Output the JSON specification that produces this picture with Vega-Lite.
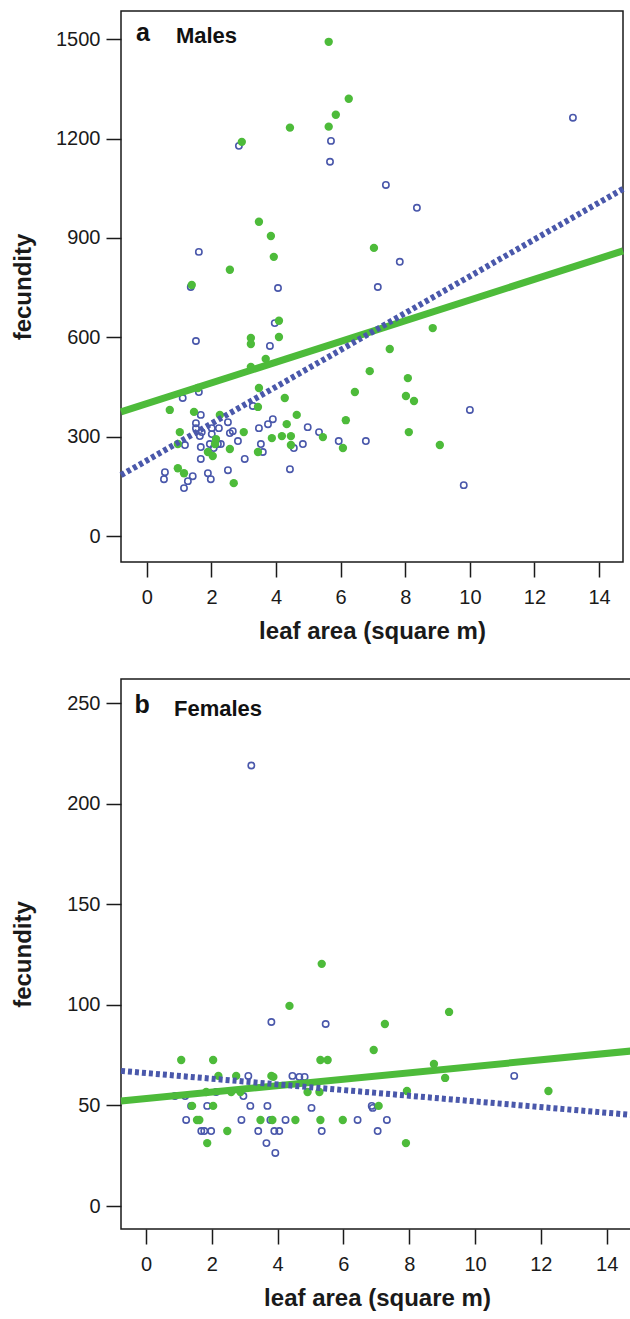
{
  "$schema": "https://vega.github.io/schema/vega-lite/v6.json",
  "padding": {"left": 10, "top": 10, "right": 0, "bottom": 0},
  "spacing": 34,
  "config": {
    "font": "Liberation Sans",
    "view": {"stroke": "#1a1a1a", "strokeWidth": 1.5},
    "axis": {"grid": false, "domain": false, "tickColor": "#1a1a1a", "tickWidth": 1.5, "tickSize": 15,
      "labelColor": "#1a1a1a", "labelFontSize": 20, "labelFont": "Liberation Sans",
      "titleFont": "Liberation Sans", "titleFontSize": 24, "titleFontWeight": "bold", "titleColor": "#1a1a1a"},
    "axisX": {"labelPadding": 10, "titlePadding": 12},
    "axisY": {"labelPadding": 6, "titlePadding": 20}
  },
  "datasets": {
    "m": [
      {"x":2.85,"y":1178,"g":"open"},{"x":5.70,"y":1193,"g":"open"},{"x":5.67,"y":1130,"g":"open"},{"x":1.61,"y":858,"g":"open"},{"x":1.36,"y":752,"g":"open"},{"x":4.06,"y":749,"g":"open"},{"x":7.15,"y":752,"g":"open"},{"x":13.19,"y":1263,"g":"open"},{"x":7.40,"y":1060,"g":"open"},{"x":8.36,"y":991,"g":"open"},{"x":7.83,"y":828,"g":"open"},{"x":3.96,"y":643,"g":"open"},{"x":1.52,"y":589,"g":"open"},{"x":3.81,"y":574,"g":"open"},{"x":1.61,"y":435,"g":"open"},{"x":1.11,"y":417,"g":"open"},{"x":3.28,"y":393,"g":"open"},{"x":1.67,"y":366,"g":"open"},{"x":3.90,"y":353,"g":"open"},{"x":3.75,"y":338,"g":"open"},{"x":2.51,"y":344,"g":"open"},{"x":1.52,"y":341,"g":"open"},{"x":1.52,"y":326,"g":"open"},{"x":2.01,"y":326,"g":"open"},{"x":2.23,"y":326,"g":"open"},{"x":3.47,"y":326,"g":"open"},{"x":4.98,"y":329,"g":"open"},{"x":5.33,"y":314,"g":"open"},{"x":1.70,"y":314,"g":"open"},{"x":1.64,"y":302,"g":"open"},{"x":2.01,"y":308,"g":"open"},{"x":2.57,"y":311,"g":"open"},{"x":2.66,"y":317,"g":"open"},{"x":2.82,"y":287,"g":"open"},{"x":1.18,"y":275,"g":"open"},{"x":1.67,"y":269,"g":"open"},{"x":1.95,"y":278,"g":"open"},{"x":2.20,"y":278,"g":"open"},{"x":2.29,"y":278,"g":"open"},{"x":3.59,"y":254,"g":"open"},{"x":4.55,"y":266,"g":"open"},{"x":4.83,"y":278,"g":"open"},{"x":5.94,"y":287,"g":"open"},{"x":6.78,"y":287,"g":"open"},{"x":1.67,"y":233,"g":"open"},{"x":3.03,"y":233,"g":"open"},{"x":2.51,"y":199,"g":"open"},{"x":4.43,"y":202,"g":"open"},{"x":0.56,"y":193,"g":"open"},{"x":0.53,"y":172,"g":"open"},{"x":1.42,"y":181,"g":"open"},{"x":1.27,"y":166,"g":"open"},{"x":1.15,"y":145,"g":"open"},{"x":1.89,"y":190,"g":"open"},{"x":1.98,"y":172,"g":"open"},{"x":10.0,"y":381,"g":"open"},{"x":9.81,"y":154,"g":"open"},{"x":3.53,"y":278,"g":"open"},{"x":2.07,"y":266,"g":"open"},
      {"x":5.63,"y":1492,"g":"filled"},{"x":6.25,"y":1320,"g":"filled"},{"x":5.85,"y":1272,"g":"filled"},{"x":4.43,"y":1233,"g":"filled"},{"x":5.63,"y":1236,"g":"filled"},{"x":2.94,"y":1190,"g":"filled"},{"x":3.47,"y":949,"g":"filled"},{"x":3.84,"y":906,"g":"filled"},{"x":3.93,"y":843,"g":"filled"},{"x":2.57,"y":804,"g":"filled"},{"x":1.39,"y":758,"g":"filled"},{"x":7.03,"y":870,"g":"filled"},{"x":4.09,"y":650,"g":"filled"},{"x":3.22,"y":598,"g":"filled"},{"x":3.22,"y":580,"g":"filled"},{"x":4.09,"y":601,"g":"filled"},{"x":3.68,"y":535,"g":"filled"},{"x":3.22,"y":511,"g":"filled"},{"x":1.58,"y":447,"g":"filled"},{"x":3.47,"y":447,"g":"filled"},{"x":4.27,"y":417,"g":"filled"},{"x":6.90,"y":498,"g":"filled"},{"x":6.44,"y":435,"g":"filled"},{"x":3.44,"y":390,"g":"filled"},{"x":0.71,"y":381,"g":"filled"},{"x":1.46,"y":375,"g":"filled"},{"x":2.26,"y":366,"g":"filled"},{"x":4.64,"y":366,"g":"filled"},{"x":4.33,"y":338,"g":"filled"},{"x":5.45,"y":299,"g":"filled"},{"x":6.16,"y":350,"g":"filled"},{"x":1.02,"y":314,"g":"filled"},{"x":3.00,"y":314,"g":"filled"},{"x":3.87,"y":296,"g":"filled"},{"x":4.18,"y":302,"g":"filled"},{"x":4.46,"y":302,"g":"filled"},{"x":4.46,"y":275,"g":"filled"},{"x":6.07,"y":266,"g":"filled"},{"x":2.14,"y":293,"g":"filled"},{"x":2.11,"y":278,"g":"filled"},{"x":0.96,"y":278,"g":"filled"},{"x":2.57,"y":263,"g":"filled"},{"x":1.89,"y":254,"g":"filled"},{"x":2.04,"y":242,"g":"filled"},{"x":3.44,"y":254,"g":"filled"},{"x":0.96,"y":205,"g":"filled"},{"x":1.15,"y":190,"g":"filled"},{"x":2.69,"y":160,"g":"filled"},{"x":8.85,"y":628,"g":"filled"},{"x":7.52,"y":565,"g":"filled"},{"x":8.08,"y":477,"g":"filled"},{"x":8.02,"y":423,"g":"filled"},{"x":8.27,"y":408,"g":"filled"},{"x":8.11,"y":314,"g":"filled"},{"x":9.07,"y":275,"g":"filled"}
    ],
    "f": [
      {"x":3.20,"y":219,"g":"open"},{"x":3.81,"y":91.5,"g":"open"},{"x":5.46,"y":90.5,"g":"open"},{"x":3.11,"y":64.7,"g":"open"},{"x":4.45,"y":64.7,"g":"open"},{"x":4.66,"y":64.2,"g":"open"},{"x":4.82,"y":64.2,"g":"open"},{"x":0.88,"y":54.7,"g":"open"},{"x":1.19,"y":54.7,"g":"open"},{"x":2.13,"y":56.7,"g":"open"},{"x":2.96,"y":54.7,"g":"open"},{"x":1.37,"y":49.8,"g":"open"},{"x":1.86,"y":49.8,"g":"open"},{"x":3.17,"y":49.8,"g":"open"},{"x":3.69,"y":49.8,"g":"open"},{"x":5.03,"y":48.8,"g":"open"},{"x":6.86,"y":49.8,"g":"open"},{"x":6.89,"y":48.8,"g":"open"},{"x":1.22,"y":42.8,"g":"open"},{"x":2.90,"y":42.8,"g":"open"},{"x":3.78,"y":42.8,"g":"open"},{"x":4.24,"y":42.8,"g":"open"},{"x":6.43,"y":42.8,"g":"open"},{"x":7.32,"y":42.8,"g":"open"},{"x":1.68,"y":37.3,"g":"open"},{"x":1.77,"y":37.3,"g":"open"},{"x":1.98,"y":37.3,"g":"open"},{"x":3.41,"y":37.3,"g":"open"},{"x":3.90,"y":37.3,"g":"open"},{"x":4.05,"y":37.3,"g":"open"},{"x":5.34,"y":37.3,"g":"open"},{"x":7.04,"y":37.3,"g":"open"},{"x":3.66,"y":31.3,"g":"open"},{"x":3.93,"y":26.4,"g":"open"},{"x":11.19,"y":64.7,"g":"open"},
      {"x":5.34,"y":120.4,"g":"filled"},{"x":4.36,"y":99.5,"g":"filled"},{"x":1.07,"y":72.6,"g":"filled"},{"x":2.04,"y":72.6,"g":"filled"},{"x":5.30,"y":72.6,"g":"filled"},{"x":5.52,"y":72.6,"g":"filled"},{"x":6.92,"y":77.6,"g":"filled"},{"x":2.20,"y":64.7,"g":"filled"},{"x":2.74,"y":64.7,"g":"filled"},{"x":3.81,"y":64.7,"g":"filled"},{"x":3.87,"y":64.2,"g":"filled"},{"x":1.83,"y":56.7,"g":"filled"},{"x":2.59,"y":56.7,"g":"filled"},{"x":2.87,"y":56.7,"g":"filled"},{"x":4.91,"y":56.7,"g":"filled"},{"x":5.27,"y":56.7,"g":"filled"},{"x":1.40,"y":49.8,"g":"filled"},{"x":2.04,"y":49.8,"g":"filled"},{"x":7.07,"y":49.8,"g":"filled"},{"x":1.55,"y":42.8,"g":"filled"},{"x":1.62,"y":42.8,"g":"filled"},{"x":3.48,"y":42.8,"g":"filled"},{"x":3.84,"y":42.8,"g":"filled"},{"x":4.54,"y":42.8,"g":"filled"},{"x":5.30,"y":42.8,"g":"filled"},{"x":5.98,"y":42.8,"g":"filled"},{"x":2.47,"y":37.3,"g":"filled"},{"x":1.86,"y":31.3,"g":"filled"},{"x":9.21,"y":96.5,"g":"filled"},{"x":7.26,"y":90.5,"g":"filled"},{"x":8.75,"y":70.6,"g":"filled"},{"x":9.09,"y":63.7,"g":"filled"},{"x":12.23,"y":57.2,"g":"filled"},{"x":7.93,"y":57.2,"g":"filled"},{"x":7.90,"y":31.3,"g":"filled"}
    ],
    "mfit": [
      {"x":-0.8,"y":375,"g":"filled"},{"x":14.74,"y":861,"g":"filled"},
      {"x":-0.8,"y":184,"g":"open"},{"x":14.74,"y":1048,"g":"open"}
    ],
    "ffit": [
      {"x":-0.76,"y":52.2,"g":"filled"},{"x":14.76,"y":77.1,"g":"filled"},
      {"x":-0.76,"y":67.2,"g":"open"},{"x":14.76,"y":45.3,"g":"open"}
    ]
  },
  "vconcat": [
    {
      "width": 502,
      "height": 551,
      "layer": [
        {"data": {"name": "m"}, "transform": [{"filter": "datum.g === 'open'"}],
          "mark": {"type": "point", "shape": "circle", "filled": false, "stroke": "#4a58ab", "strokeWidth": 1.6, "size": 40, "opacity": 1},
          "encoding": {
            "x": {"field": "x", "type": "quantitative", "title": "leaf area (square m)",
              "scale": {"domain": [-0.8, 14.74], "nice": false, "zero": false},
              "axis": {"values": [0, 2, 4, 6, 8, 10, 12, 14]}},
            "y": {"field": "y", "type": "quantitative", "title": "fecundity",
              "scale": {"domain": [-78, 1585], "nice": false, "zero": false},
              "axis": {"values": [0, 300, 600, 900, 1200, 1500], "format": "d"}}
          }},
        {"data": {"name": "m"}, "transform": [{"filter": "datum.g === 'filled'"}],
          "mark": {"type": "circle", "color": "#4dbb3a", "size": 70, "opacity": 1},
          "encoding": {"x": {"field": "x", "type": "quantitative"}, "y": {"field": "y", "type": "quantitative"}}},
        {"data": {"name": "mfit"}, "transform": [{"filter": "datum.g === 'filled'"}],
          "mark": {"type": "line", "color": "#4dbb3a", "strokeWidth": 7},
          "encoding": {"x": {"field": "x", "type": "quantitative"}, "y": {"field": "y", "type": "quantitative"}}},
        {"data": {"name": "mfit"}, "transform": [{"filter": "datum.g === 'open'"}],
          "mark": {"type": "line", "color": "#4a58ab", "strokeWidth": 6, "strokeDash": [4, 3], "strokeCap": "butt"},
          "encoding": {"x": {"field": "x", "type": "quantitative"}, "y": {"field": "y", "type": "quantitative"}}},
        {"data": {"values": [{"t": "a"}]},
          "mark": {"type": "text", "fontSize": 25, "fontWeight": "bold", "align": "center", "baseline": "middle", "color": "#111111"},
          "encoding": {"x": {"datum": -0.12, "type": "quantitative"}, "y": {"datum": 1518, "type": "quantitative"}, "text": {"field": "t", "type": "nominal"}}},
        {"data": {"values": [{"t": "Males"}]},
          "mark": {"type": "text", "fontSize": 22, "fontWeight": "bold", "align": "left", "baseline": "middle", "color": "#111111"},
          "encoding": {"x": {"datum": 0.9, "type": "quantitative"}, "y": {"datum": 1510, "type": "quantitative"}, "text": {"field": "t", "type": "nominal"}}}
      ]
    },
    {
      "width": 512,
      "height": 550,
      "layer": [
        {"data": {"name": "f"}, "transform": [{"filter": "datum.g === 'open'"}],
          "mark": {"type": "point", "shape": "circle", "filled": false, "stroke": "#4a58ab", "strokeWidth": 1.6, "size": 40, "opacity": 1},
          "encoding": {
            "x": {"field": "x", "type": "quantitative", "title": "leaf area (square m)",
              "scale": {"domain": [-0.76, 14.8], "nice": false, "zero": false},
              "axis": {"values": [0, 2, 4, 6, 8, 10, 12, 14]}},
            "y": {"field": "y", "type": "quantitative", "title": "fecundity",
              "scale": {"domain": [-11.4, 262], "nice": false, "zero": false},
              "axis": {"values": [0, 50, 100, 150, 200, 250], "format": "d", "titlePadding": 31}}
          }},
        {"data": {"name": "f"}, "transform": [{"filter": "datum.g === 'filled'"}],
          "mark": {"type": "circle", "color": "#4dbb3a", "size": 70, "opacity": 1},
          "encoding": {"x": {"field": "x", "type": "quantitative"}, "y": {"field": "y", "type": "quantitative"}}},
        {"data": {"name": "ffit"}, "transform": [{"filter": "datum.g === 'filled'"}],
          "mark": {"type": "line", "color": "#4dbb3a", "strokeWidth": 7},
          "encoding": {"x": {"field": "x", "type": "quantitative"}, "y": {"field": "y", "type": "quantitative"}}},
        {"data": {"name": "ffit"}, "transform": [{"filter": "datum.g === 'open'"}],
          "mark": {"type": "line", "color": "#4a58ab", "strokeWidth": 6, "strokeDash": [4, 3], "strokeCap": "butt"},
          "encoding": {"x": {"field": "x", "type": "quantitative"}, "y": {"field": "y", "type": "quantitative"}}},
        {"data": {"values": [{"t": "b"}]},
          "mark": {"type": "text", "fontSize": 25, "fontWeight": "bold", "align": "center", "baseline": "middle", "color": "#111111"},
          "encoding": {"x": {"datum": -0.12, "type": "quantitative"}, "y": {"datum": 249, "type": "quantitative"}, "text": {"field": "t", "type": "nominal"}}},
        {"data": {"values": [{"t": "Females"}]},
          "mark": {"type": "text", "fontSize": 22, "fontWeight": "bold", "align": "left", "baseline": "middle", "color": "#111111"},
          "encoding": {"x": {"datum": 0.85, "type": "quantitative"}, "y": {"datum": 247, "type": "quantitative"}, "text": {"field": "t", "type": "nominal"}}}
      ]
    }
  ]
}
